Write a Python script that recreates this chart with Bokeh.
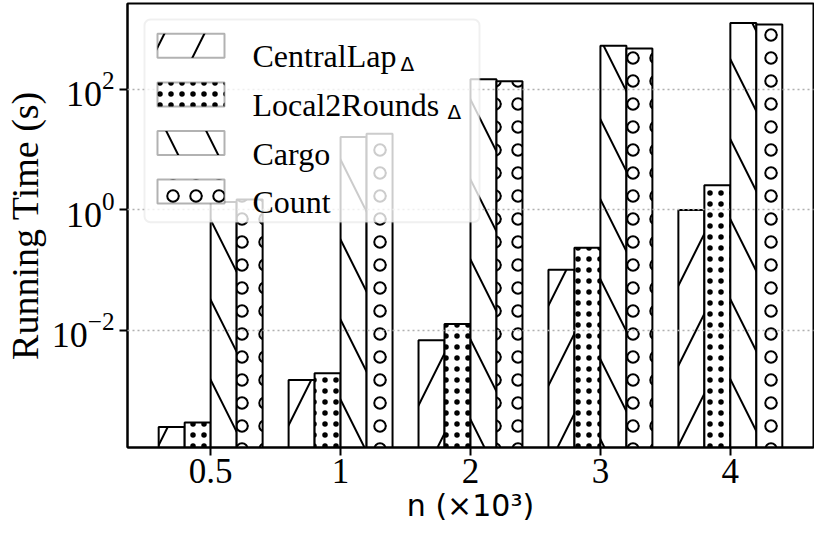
from bokeh.plotting import figure
from bokeh.models import (Range1d, FixedTicker, BoxAnnotation, Label, ColumnDataSource)
from bokeh.transform import dodge
from bokeh.embed import file_html
from bokeh.resources import INLINE

# ---------------- data ----------------
groups = ["0.5", "1", "2", "3", "4"]
central_lap = [2.5e-4, 1.5e-3, 6.9e-3, 0.102, 1.0]
local2rounds = [2.96e-4, 1.94e-3, 0.0128, 0.235, 2.57]
cargo = [1.35, 16.2, 147, 531, 1260]
count = [1.49, 18.3, 136, 478, 1193]
series_names = ["CentralLap", "Local2Rounds", "Cargo", "Count"]
series_subscripts = ["Δ", "Δ", "", ""]
y_ticks = [1e-2, 1, 1e2]
y_title = "Running Time (s)"
x_title = "n (×10³)"

# ---------------- layout ----------------
W, H = 814, 534
BL, BR, BT, BB = 127, 1, 3, 87
FW, FH = W - BL - BR, H - BT - BB

idx = list(range(len(groups)))
src = ColumnDataSource(dict(idx=idx, central_lap=central_lap, local2rounds=local2rounds,
                            cargo=cargo, count=count))

p = figure(width=W, height=H, y_axis_type="log",
           x_range=Range1d(-0.64, len(groups) - 1 + 0.64),
           y_range=Range1d(1.14e-4, 2665),
           output_backend="svg", toolbar_location=None,
           min_border_left=BL, min_border_right=BR, min_border_top=BT, min_border_bottom=BB)
p.background_fill_color = "white"
p.border_fill_color = "white"
p.outline_line_color = "black"
p.outline_line_width = 2

# hatch pattern, scale for each series
hatches = [("/", 80), (".", 11), ("\\", 80), ("o", 23)]

# ---------------- bars ----------------
cols = ["central_lap", "local2rounds", "cargo", "count"]
offsets = [-0.3, -0.1, 0.1, 0.3]
for col, off, (hp, hs) in zip(cols, offsets, hatches):
    p.vbar(x=dodge("idx", off), top=col, bottom=1e-8, width=0.2, source=src,
           fill_color="white", line_color="black", line_width=2,
           hatch_pattern=hp, hatch_scale=hs, hatch_weight=2, hatch_color="black")

# ---------------- axes ----------------
p.xaxis.ticker = FixedTicker(ticks=idx)
p.xaxis.major_label_overrides = {i: g for i, g in zip(idx, groups)}
yt = FixedTicker(ticks=y_ticks, minor_ticks=[])
p.yaxis.ticker = yt
p.ygrid.ticker = yt
p.xgrid.visible = False
p.ygrid.grid_line_color = "#b0b0b0"
p.ygrid.grid_line_width = 1.5
p.ygrid.grid_line_dash = "2 3"
p.ygrid.level = "guide"

for ax in (p.xaxis, p.yaxis):
    ax.axis_line_width = 2
    ax.axis_line_color = "black"
    ax.major_tick_line_width = 2
    ax.major_tick_line_color = "black"
    ax.major_tick_out = 8
    ax.major_tick_in = 0
    ax.minor_tick_line_color = None
    ax.major_label_text_font = "Liberation Serif"
    ax.major_label_text_color = "black"
    ax.axis_label_text_color = "black"
    ax.axis_label_text_font_style = "normal"

p.xaxis.major_label_text_font_size = "35px"
p.yaxis.major_label_text_font_size = "36px"
p.xaxis.major_label_standoff = 3
p.yaxis.major_label_standoff = 5

p.yaxis.axis_label = y_title
p.yaxis.axis_label_text_font = "Liberation Serif"
p.yaxis.axis_label_text_font_size = "38px"
p.yaxis.axis_label_standoff = 3
p.xaxis.axis_label = x_title
p.xaxis.axis_label_text_font = "DejaVu Sans"
p.xaxis.axis_label_text_font_size = "30px"
p.xaxis.axis_label_standoff = 2

# ---------------- legend (drawn by hand, offsets from frame top-left) ----------------
def sy(off):
    return FH - off

p.add_layout(BoxAnnotation(left=17, right=352, top=sy(16), bottom=sy(218.7),
                           left_units="screen", right_units="screen",
                           top_units="screen", bottom_units="screen",
                           fill_color="white", fill_alpha=0.8,
                           line_color="#cccccc", line_width=2, border_radius=6))
sub_x = [273, 320, None, None]
for i, (name, sub, (hp, hs)) in enumerate(zip(series_names, series_subscripts, hatches)):
    top = 30.3 + i * 48.6
    p.add_layout(BoxAnnotation(left=30, right=97, top=sy(top), bottom=sy(top + 24),
                               left_units="screen", right_units="screen",
                               top_units="screen", bottom_units="screen",
                               fill_color="white", fill_alpha=1.0,
                               line_color="black", line_width=2,
                               hatch_pattern=hp, hatch_scale=hs,
                               hatch_weight=2, hatch_color="black"))
    p.add_layout(Label(x=125, y=sy(top + 22.5), x_units="screen", y_units="screen",
                       text=name, text_font="Liberation Serif", text_font_size="32px",
                       text_baseline="alphabetic", text_align="left", text_color="black"))
    if sub:
        p.add_layout(Label(x=sub_x[i], y=sy(top + 30), x_units="screen", y_units="screen",
                           text=sub, text_font="DejaVu Sans", text_font_size="20px",
                           text_baseline="alphabetic", text_align="left", text_color="black"))

open("out.html", "w").write(file_html(p, INLINE))
